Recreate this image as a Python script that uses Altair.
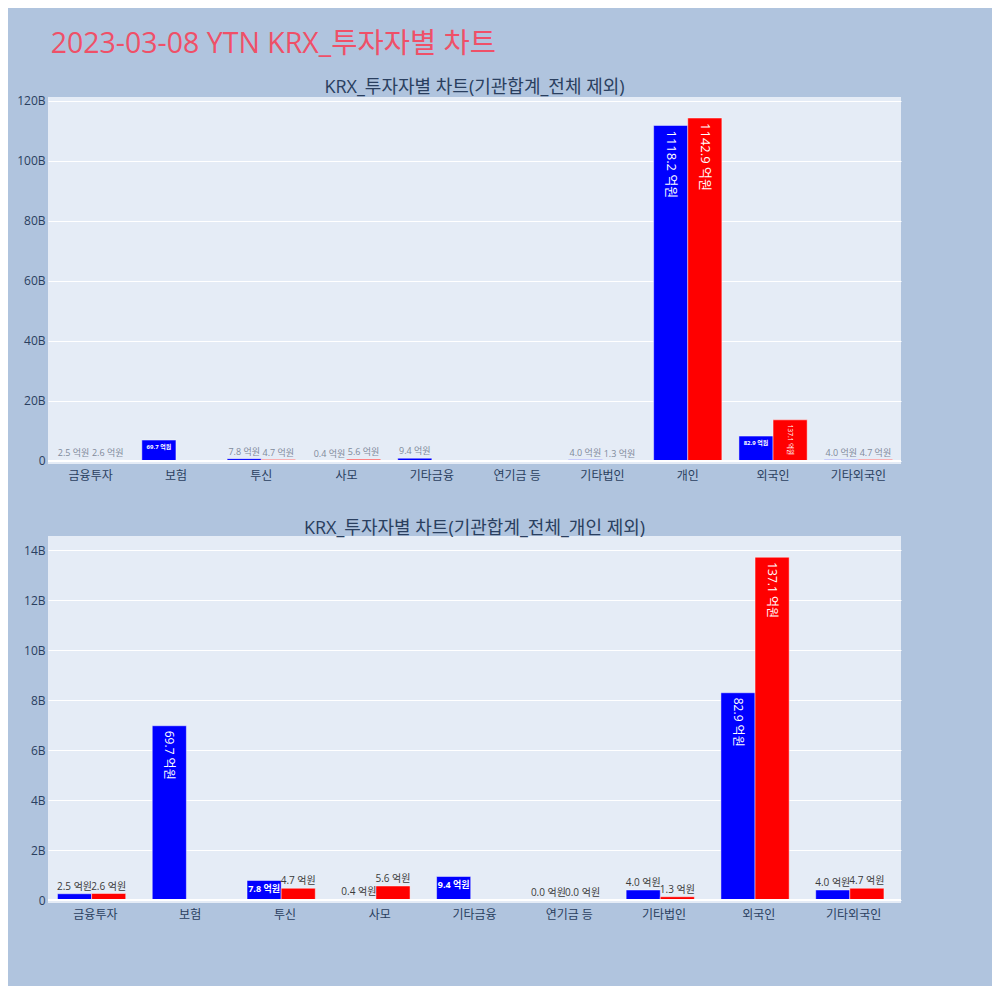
import altair as alt
import pandas as pd

TITLE = "2023-03-08 YTN KRX_투자자별 차트"
SUB1 = "KRX_투자자별 차트(기관합계_전체 제외)"
SUB2 = "KRX_투자자별 차트(기관합계_전체_개인 제외)"

categories = ["금융투자", "보험", "투신", "사모", "기타금융", "연기금 등", "기타법인", "개인", "외국인", "기타외국인"]
buy_eok = [2.5, 69.7, 7.8, 0.4, 9.4, 0.0, 4.0, 1118.2, 82.9, 4.0]
sell_eok = [2.6, None, 4.7, 5.6, None, 0.0, 1.3, 1142.9, 137.1, 4.7]
series_names = ["매수", "매도"]
colors = ["#0000FF", "#FF0000"]

top_ticks = [0, 20e9, 40e9, 60e9, 80e9, 100e9, 120e9]
bottom_ticks = [0, 2e9, 4e9, 6e9, 8e9, 10e9, 12e9, 14e9]

FONT = "Open Sans, Noto Sans CJK KR"
AXIS_COLOR = "#2a3f5f"


def make_df(cats):
    rows = []
    for c, b, s in zip(categories, buy_eok, sell_eok):
        if c not in cats:
            continue
        for name, v in zip(series_names, (b, s)):
            if v is None:
                continue
            rows.append({"cat": c, "series": name, "eok": v, "won": v * 1e8,
                         "label": f"{v:.1f} 억원"})
    return pd.DataFrame(rows)


def panel(cats, domain, ticks, subtitle, out_color, out_size, h_size, rot_big, rot_small, hide_zero):
    df = make_df(cats)
    base = alt.Chart(df).transform_joinaggregate(mx="max(won)").transform_calculate(
        ratio="datum.won / datum.mx")
    x = alt.X("cat:N", sort=cats, title=None,
              scale=alt.Scale(paddingInner=0.2, paddingOuter=0.1),
              axis=alt.Axis(labelAngle=0, ticks=False, domain=False, labelFontSize=12,
                            labelColor=AXIS_COLOR, labelPadding=6, labelFont=FONT))
    xo = alt.XOffset("series:N", sort=series_names,
                     scale=alt.Scale(paddingInner=0, paddingOuter=0))
    y = alt.Y("won:Q", title=None,
              scale=alt.Scale(domain=domain, nice=False),
              axis=alt.Axis(values=ticks, ticks=False, domain=False, grid=True,
                            gridColor="white", gridWidth=1, labelFontSize=12,
                            labelColor=AXIS_COLOR, labelPadding=3, labelFont=FONT,
                            labelExpr="datum.value == 0 ? '0' : format(datum.value / 1e9, 'd') + 'B'"))
    bars = base.mark_bar(stroke="white", strokeOpacity=0.45, strokeWidth=1).encode(
        x=x, xOffset=xo, y=y,
        color=alt.Color("series:N", scale=alt.Scale(domain=series_names, range=colors), legend=None))
    out_filter = "datum.ratio < 0.05" + (" && datum.eok > 0" if hide_zero else "")
    out_txt = base.transform_filter(out_filter).mark_text(
        baseline="bottom", dy=-2, fontSize=out_size, color=out_color, font=FONT).encode(
        x=x, xOffset=xo, y=y, text="label:N")
    h_txt = base.transform_filter("datum.ratio >= 0.05 && datum.ratio < 0.1").mark_text(
        baseline="top", dy=4, fontSize=h_size, fontWeight="bold", color="white", font=FONT).encode(
        x=x, xOffset=xo, y=y, text="label:N")
    r_txt = base.transform_filter("datum.ratio >= 0.1").mark_text(
        angle=90, align="left", baseline="middle", dx=5, color="white", font=FONT).encode(
        x=x, xOffset=xo, y=y, text="label:N",
        size=alt.condition("datum.ratio > 0.5", alt.value(rot_big), alt.value(rot_small)))
    zero = alt.Chart(pd.DataFrame({"z": [0]})).mark_rule(color="white", strokeWidth=2).encode(
        y=alt.Y("z:Q", title=None))
    return alt.layer(bars, zero, out_txt, h_txt, r_txt).properties(
        width=853, height=367,
        title=alt.TitleParams(subtitle, fontSize=18, color=AXIS_COLOR, font=FONT,
                              fontWeight="normal", anchor="middle", offset=-2))


cats_bottom = [c for c in categories if c != "개인"]
top = panel(categories, [-1.0e9, 121.3e9], top_ticks, SUB1, "#7f8a9a", 9, 6, 13, 6.5, True)
bottom = panel(cats_bottom, [-0.12e9, 14.56e9], bottom_ticks, SUB2, "#3a3a3a", 10, 9, 12, 12, False)

chart = alt.vconcat(top, bottom, spacing=39).properties(
    title=alt.TitleParams(TITLE, anchor="start", fontSize=28.5, color="#EF5068", font=FONT,
                          fontWeight="normal", dx=34, offset=20),
    padding={"left": 8, "top": 22, "right": 90, "bottom": 66},
).configure(background="#B0C4DE").configure_view(fill="#E5ECF6", stroke=None)

chart.save("out.html", embed_options={"renderer": "svg", "actions": False})
